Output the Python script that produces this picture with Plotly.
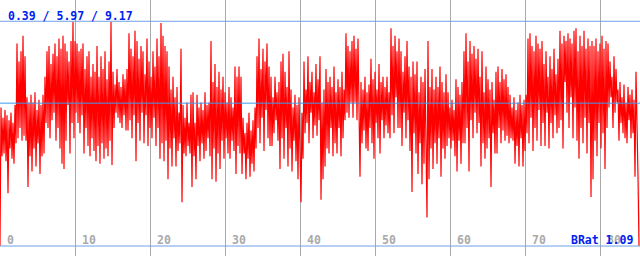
import numpy as np
import plotly.graph_objects as go

values = [
    0.39, 5.8, 3.9, 5.4, 4.0, 5.7, 3.7, 5.5, 2.45, 5.3, 4.2, 5.6, 3.8, 5.2, 3.6, 5.9,
    4.4, 8.3, 4.6, 7.6, 5.0, 8.0, 4.5, 8.6, 4.7, 7.8, 4.5, 6.2, 2.7, 6.0, 3.9, 6.3,
    3.3, 6.0, 4.2, 6.4, 3.5, 5.7, 4.4, 6.1, 3.2, 5.9, 3.9, 6.3, 4.0, 7.0, 5.2, 8.0,
    5.0, 8.2, 4.6, 7.5, 5.3, 7.9, 5.6, 8.3, 4.5, 7.8, 5.0, 8.5, 4.2, 8.1, 3.6, 8.6,
    3.4, 8.3, 4.5, 8.0, 5.9, 7.6, 4.0, 8.4, 5.2, 9.14, 4.6, 8.4, 5.6, 8.3, 5.2, 8.0,
    4.8, 8.1, 5.5, 8.3, 4.0, 7.3, 5.0, 7.8, 4.3, 8.0, 3.9, 7.0, 4.6, 7.5, 4.1, 7.2,
    3.7, 8.2, 4.3, 7.0, 3.6, 7.8, 4.4, 7.3, 3.8, 8.0, 4.2, 6.9, 3.9, 7.6, 4.5, 9.14,
    3.55, 7.2, 5.0, 6.7, 5.6, 7.3, 5.4, 6.8, 5.2, 6.6, 5.0, 7.1, 5.5, 6.9, 4.9, 7.3,
    4.9, 8.7, 5.3, 8.1, 4.6, 7.8, 5.5, 8.8, 3.7, 8.4, 5.2, 7.7, 4.5, 8.2, 5.6, 8.0,
    4.4, 7.1, 5.5, 8.5, 4.3, 7.6, 5.0, 7.0, 4.6, 8.0, 5.4, 7.4, 4.3, 8.5, 5.0, 7.8,
    3.8, 9.1, 4.4, 8.6, 3.7, 8.2, 4.5, 8.0, 3.0, 7.4, 4.2, 6.5, 3.5, 7.0, 4.6, 6.2,
    3.5, 6.6, 4.1, 5.6, 4.4, 8.1, 2.1, 5.9, 4.0, 5.4, 3.9, 6.0, 4.3, 5.2, 4.0, 6.3,
    2.7, 6.4, 3.9, 5.2, 3.0, 6.3, 4.3, 5.8, 3.7, 6.0, 4.4, 5.7, 3.8, 6.4, 4.1, 5.9,
    4.6, 6.0, 3.9, 8.4, 3.0, 6.8, 4.2, 7.5, 2.9, 6.6, 4.0, 7.2, 3.4, 6.5, 4.5, 7.0,
    3.8, 6.4, 4.6, 6.0, 4.0, 6.6, 3.8, 6.2, 4.5, 5.8, 4.1, 7.4, 3.2, 7.0, 4.3, 7.4,
    4.0, 7.0, 3.2, 5.4, 4.0, 4.8, 3.0, 5.2, 3.8, 5.6, 3.1, 4.9, 3.6, 5.3, 3.3, 5.8,
    4.2, 7.8, 5.0, 8.5, 4.4, 7.3, 5.4, 8.1, 4.1, 7.6, 5.7, 8.3, 4.6, 7.4, 4.3, 7.0,
    4.3, 6.2, 4.8, 7.0, 5.3, 6.4, 4.5, 6.8, 3.4, 7.6, 4.6, 7.9, 3.8, 7.2, 5.0, 6.6,
    3.5, 8.0, 4.2, 6.5, 3.3, 5.8, 4.5, 6.3, 3.7, 5.9, 3.0, 6.2, 4.1, 2.1, 5.6, 3.8,
    7.6, 4.8, 6.5, 5.2, 7.8, 4.4, 6.8, 5.6, 7.2, 4.6, 6.4, 5.1, 7.5, 4.7, 6.9, 5.3,
    7.8, 2.2, 6.0, 3.0, 6.5, 3.5, 7.3, 4.2, 6.8, 4.0, 7.0, 5.0, 6.6, 3.9, 7.4, 4.4,
    6.4, 4.0, 6.9, 5.0, 6.6, 3.9, 7.2, 4.6, 6.5, 5.3, 8.7, 5.6, 8.2, 5.4, 8.0, 6.0,
    8.4, 5.4, 8.6, 6.0, 8.1, 5.3, 8.5, 5.8, 3.1, 6.8, 4.4, 6.5, 4.9, 7.0, 4.2, 6.4,
    4.1, 6.7, 5.0, 7.7, 4.4, 6.9, 3.8, 7.2, 5.2, 6.5, 4.6, 7.5, 4.0, 6.8, 5.3, 7.0,
    4.6, 6.6, 5.1, 7.0, 4.8, 6.4, 4.6, 8.9, 5.5, 8.2, 4.8, 8.6, 6.2, 8.0, 5.0, 8.5,
    5.0, 8.0, 4.3, 7.2, 5.6, 7.8, 4.6, 8.4, 5.3, 7.4, 4.1, 7.0, 2.5, 7.6, 4.8, 7.1,
    4.0, 7.6, 3.2, 6.4, 4.4, 7.0, 2.8, 6.8, 3.6, 7.3, 3.0, 1.5, 8.4, 3.0, 6.6, 4.2,
    7.3, 3.4, 6.5, 4.4, 7.0, 3.6, 6.6, 4.6, 7.4, 3.1, 6.8, 4.2, 6.4, 3.8, 7.1, 4.3,
    6.4, 4.6, 5.8, 4.2, 6.1, 4.5, 5.7, 3.9, 6.9, 3.3, 6.6, 4.5, 6.3, 3.6, 6.8, 4.4,
    8.0, 4.4, 8.7, 5.0, 7.6, 3.3, 8.4, 5.3, 7.9, 4.6, 8.2, 5.6, 7.7, 4.8, 8.1, 5.2,
    7.0, 3.5, 8.0, 4.4, 6.4, 3.8, 7.4, 4.2, 6.9, 4.6, 6.5, 2.7, 6.8, 4.8, 6.1, 4.0,
    7.2, 4.0, 7.4, 5.0, 6.8, 4.4, 7.3, 4.9, 6.9, 4.5, 7.1, 4.7, 6.6, 4.4, 6.3, 4.6,
    5.8, 4.5, 6.2, 3.6, 5.7, 4.3, 6.0, 3.5, 6.3, 4.6, 5.9, 3.5, 6.1, 4.1, 6.3, 4.8,
    8.5, 4.4, 8.7, 5.4, 8.2, 4.1, 8.0, 5.0, 8.6, 4.5, 8.3, 5.7, 8.1, 4.3, 8.4, 5.2,
    7.5, 4.3, 8.0, 5.6, 7.0, 4.2, 7.8, 5.2, 7.3, 4.6, 8.1, 5.5, 7.1, 4.8, 7.7, 5.0,
    8.8, 5.3, 8.3, 4.2, 8.6, 6.8, 8.4, 5.6, 8.7, 5.0, 8.5, 6.2, 8.3, 4.6, 8.8, 5.8,
    8.9, 4.5, 8.0, 3.8, 8.6, 5.0, 8.2, 4.4, 8.8, 5.4, 8.1, 4.0, 8.5, 5.2, 8.2, 2.3,
    8.4, 3.0, 8.2, 4.5, 8.5, 3.9, 8.0, 5.2, 8.3, 4.2, 8.6, 4.8, 8.1, 3.4, 8.4, 5.0,
    8.3, 5.8, 7.6, 6.2, 7.0, 5.0, 7.8, 5.6, 7.3, 6.0, 6.5, 4.5, 6.8, 5.2, 6.2, 4.8,
    6.7, 4.6, 6.0, 4.4, 6.6, 5.3, 6.3, 4.6, 6.5, 4.8, 6.1, 3.1, 7.2, 4.0, 3.1, 0.39,
]
sample_step = 1 / 7.5
x_vals = np.arange(len(values)) * sample_step

stat_min = 0.39
stat_mean = 5.97
stat_max = 9.17
brat = 1.09
tick_vals = [0, 10, 20, 30, 40, 50, 60, 70, 80]
tick_labels = [str(t) for t in tick_vals]

x_range = [0, 640 / 7.5]
y_range = [0, 10]

fig = go.Figure()
fig.add_trace(go.Scatter(x=x_vals, y=values, mode="lines",
                         line=dict(color="#ff0000", width=1.2), hoverinfo="skip"))
for val, col in [(stat_max, "#6fa0e6"), (stat_mean, "#3d9bf0"), (stat_min, "#6fa0e6")]:
    fig.add_trace(go.Scatter(x=x_range, y=[val, val], mode="lines",
                             line=dict(color=col, width=1), hoverinfo="skip"))

mono = "DejaVu Sans Mono"
annotations = []
for tv, tl in zip(tick_vals, tick_labels):
    annotations.append(dict(x=tv, y=0, xref="x", yref="y", text="<b>%s</b>" % tl,
                            showarrow=False, xanchor="left", yanchor="bottom",
                            xshift=6, yshift=8, borderpad=0,
                            font=dict(family=mono, size=11.5, color="#aaaaaa")))
annotations.append(dict(x=7 / 640, y=1, xref="paper", yref="paper",
                        text="<b>%.2f / %.2f / %.2f</b>" % (stat_min, stat_mean, stat_max),
                        showarrow=False, xanchor="left", yanchor="top", yshift=-8, borderpad=0,
                        font=dict(family=mono, size=11.5, color="#0022ee")))
annotations.append(dict(x=570 / 640, y=0, xref="paper", yref="paper",
                        text="<b>BRat %.2f</b>" % brat,
                        showarrow=False, xanchor="left", yanchor="bottom", yshift=8, borderpad=0,
                        font=dict(family=mono, size=11.5, color="#0022ee")))

fig.update_layout(
    width=640, height=256, margin=dict(l=0, r=0, t=0, b=0),
    paper_bgcolor="white", plot_bgcolor="white", showlegend=False,
    annotations=annotations,
    xaxis=dict(range=x_range, tick0=0, dtick=10, showgrid=True, gridcolor="#aaaaaa",
               gridwidth=1, showticklabels=False, zeroline=False, ticks=""),
    yaxis=dict(range=y_range, showgrid=False, showticklabels=False, zeroline=False, ticks=""),
)
fig.write_html("out.html")
